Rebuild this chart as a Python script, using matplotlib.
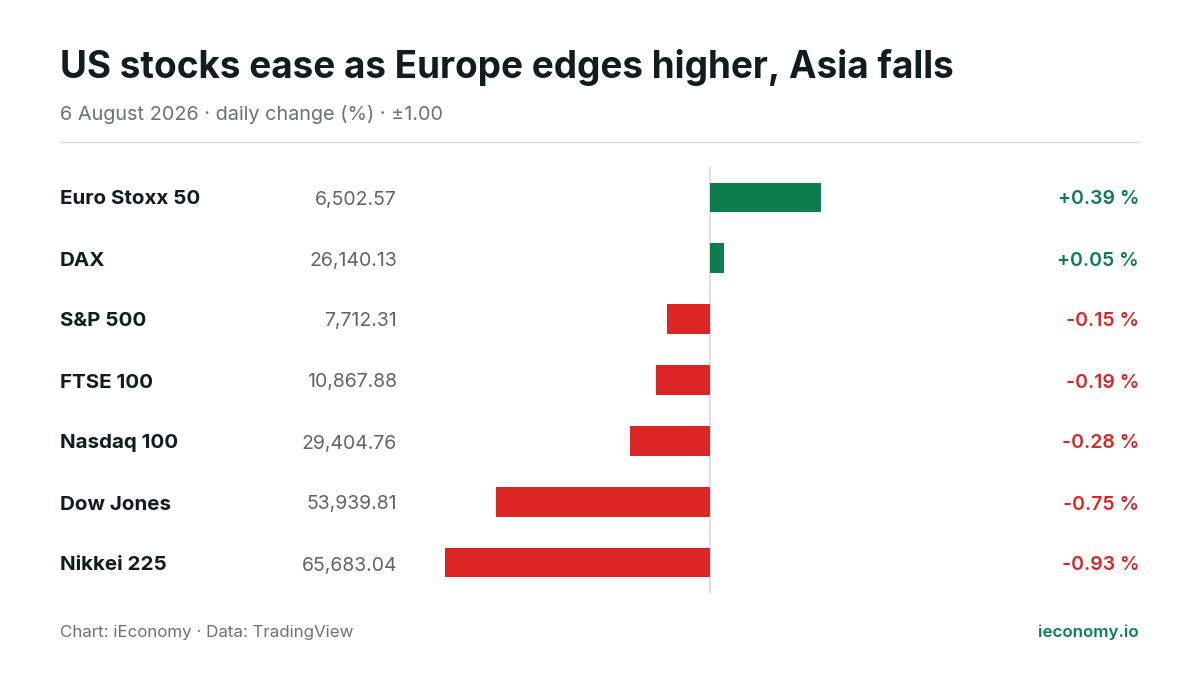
import matplotlib
matplotlib.use("Agg")
import matplotlib.pyplot as plt

names = ["Euro Stoxx 50", "DAX", "S&P 500", "FTSE 100", "Nasdaq 100", "Dow Jones", "Nikkei 225"]
levels = ["6,502.57", "26,140.13", "7,712.31", "10,867.88", "29,404.76", "53,939.81", "65,683.04"]
changes = [0.39, 0.05, -0.15, -0.19, -0.28, -0.75, -0.93]

plt.rcParams['font.family'] = ['Inter', 'DejaVu Sans']
W, H = 1200, 675
fig = plt.figure(figsize=(12, 6.75), dpi=100)
fig.patch.set_facecolor("white")
GREEN, RED = "#0b7d4f", "#dc2626"

def fx(x): return x / W
def fy(y): return 1 - y / H

fig.text(fx(60), fy(68), "US stocks ease as Europe edges higher, Asia falls", fontsize=26.6,
         fontweight="bold", color="#111c1c", va="center")
fig.text(fx(60), fy(115), "6 August 2026 · daily change (%) · ±1.00", fontsize=14.3,
         color="#6b7272", va="center")
fig.add_artist(plt.Line2D([fx(60), fx(1140)], [fy(142), fy(142)], color="#dddddd", lw=1))

ax = fig.add_axes([fx(425), fy(593), 570 / W, 426 / H])
ax.set_xlim(-1, 1)
ax.set_ylim(6.5, -0.5)
ax.axis("off")
cols = [GREEN if c >= 0 else RED for c in changes]
ax.barh(range(len(names)), changes, height=0.49, color=cols)
ax.axvline(0, color="#d9d9d9", lw=1.2, zorder=0)

for i, (n, l, c) in enumerate(zip(names, levels, changes)):
    y = fy(199.5 + 61 * i)
    fig.text(fx(60), y, n, fontsize=14.8, fontweight="bold", color="#111c1c", va="center")
    fig.text(fx(397), y, l, fontsize=14, color="#5f6666", va="center", ha="right")
    fig.text(fx(1139), y, f"{c:+.2f} %", fontsize=14, color=cols[i], va="center", ha="right",
             fontweight="semibold")

fig.text(fx(60), fy(632), "Chart: iEconomy · Data: TradingView", fontsize=12.2, color="#6b7272", va="center")
fig.text(fx(1139), fy(632), "ieconomy.io", fontsize=12.2, color=GREEN, va="center", ha="right",
         fontweight="semibold")

fig.savefig("out.png", dpi=100, facecolor="white")
